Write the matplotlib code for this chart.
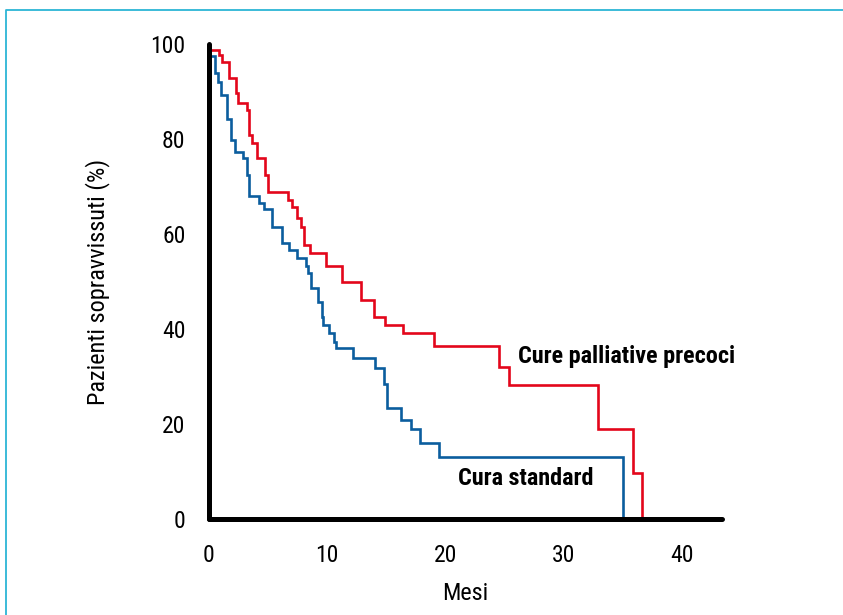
import matplotlib
matplotlib.use("Agg")
import matplotlib.pyplot as plt
from matplotlib.lines import Line2D
from matplotlib import font_manager

# ---- data ----
red_label = "Cure palliative precoci"
blue_label = "Cura standard"

red_t = [0, 0.85, 1.10, 1.69, 2.28, 2.45, 3.21, 3.38, 3.63, 4.06, 4.73, 4.99, 6.68, 7.02,
         7.44, 7.78, 8.03, 8.54, 9.89, 11.24, 12.85, 13.95, 14.88, 16.40, 19.02, 24.51,
         25.36, 32.88, 35.84, 36.6]
red_s = [98.7, 97.7, 96.2, 92.8, 89.7, 87.6, 86.1, 80.8, 79.2, 76.0, 72.4, 68.8, 67.2, 65.7,
         63.4, 61.5, 57.7, 56.0, 53.3, 49.9, 46.1, 42.5, 40.8, 39.2, 36.4, 32.0,
         28.2, 18.9, 9.7, 0.0]

blue_t = [0, 0.51, 0.76, 1.01, 1.52, 1.86, 2.20, 2.87, 3.21, 3.38, 4.23, 4.65, 5.33, 6.17,
          6.76, 7.44, 8.20, 8.37, 8.62, 9.21, 9.55, 9.64, 10.14, 10.57, 10.74, 12.17,
          14.03, 14.79, 15.05, 16.23, 17.07, 17.84, 19.44, 35.0]
blue_s = [97.5, 93.9, 92.0, 89.3, 84.2, 79.8, 77.3, 76.0, 72.4, 68.0, 66.5, 65.3, 61.5, 58.1,
          56.6, 54.9, 53.3, 51.8, 48.6, 45.7, 42.5, 40.8, 39.2, 37.3, 36.0, 33.9,
          31.8, 28.4, 23.4, 20.8, 18.9, 16.0, 13.1, 0.0]

x_ticks = [0, 10, 20, 30, 40]
y_ticks = [0, 20, 40, 60, 80, 100]
x_title = "Mesi"
y_title = "Pazienti sopravvissuti (%)"

# ---- font ----
avail = {f.name for f in font_manager.fontManager.ttflist}
fam = [f for f in ["Roboto Condensed", "Liberation Sans Narrow", "Liberation Sans"] if f in avail]
fam.append("DejaVu Sans")
plt.rcParams['font.family'] = fam

RED = "#e3061b"
BLUE = "#0b5d9e"

fig = plt.figure(figsize=(8.43, 6.15), dpi=100)
ax = fig.add_axes([209/843, 96/615, 513/843, 475/615])

ax.plot(red_t, red_s, drawstyle="steps-post", color=RED, lw=1.9, solid_joinstyle="miter", zorder=3)
ax.plot(blue_t, blue_s, drawstyle="steps-post", color=BLUE, lw=1.9, solid_joinstyle="miter", zorder=3)

ax.set_xlim(0, 43.4)
ax.set_ylim(0, 100)
ax.set_xticks(x_ticks)
ax.set_yticks(y_ticks)
ax.tick_params(axis="x", length=0, labelsize=17, pad=18)
ax.tick_params(axis="y", length=0, labelsize=17, pad=17)

for s in ["top", "right"]:
    ax.spines[s].set_visible(False)
for s in ["left", "bottom"]:
    ax.spines[s].set_linewidth(3.6)
    ax.spines[s].set_capstyle("round")
    ax.spines[s].set_zorder(4)

ax.set_xlabel(x_title, fontsize=17.5, labelpad=11)
ax.set_ylabel(y_title, fontsize=17.5, labelpad=29)

ax.text(26.1, 34.3, red_label, fontsize=17.4, fontweight="bold", va="center", ha="left")
ax.text(21.05, 8.6, blue_label, fontsize=17.4, fontweight="bold", va="center", ha="left")

# cyan frame (left and top)
fc = "#2cb5d6"
fig.add_artist(Line2D([6/843, 6/843, 1.0], [0.0, 1 - 10/615, 1 - 10/615],
                      transform=fig.transFigure, color=fc, lw=1.3))

fig.savefig("out.png", dpi=100)
